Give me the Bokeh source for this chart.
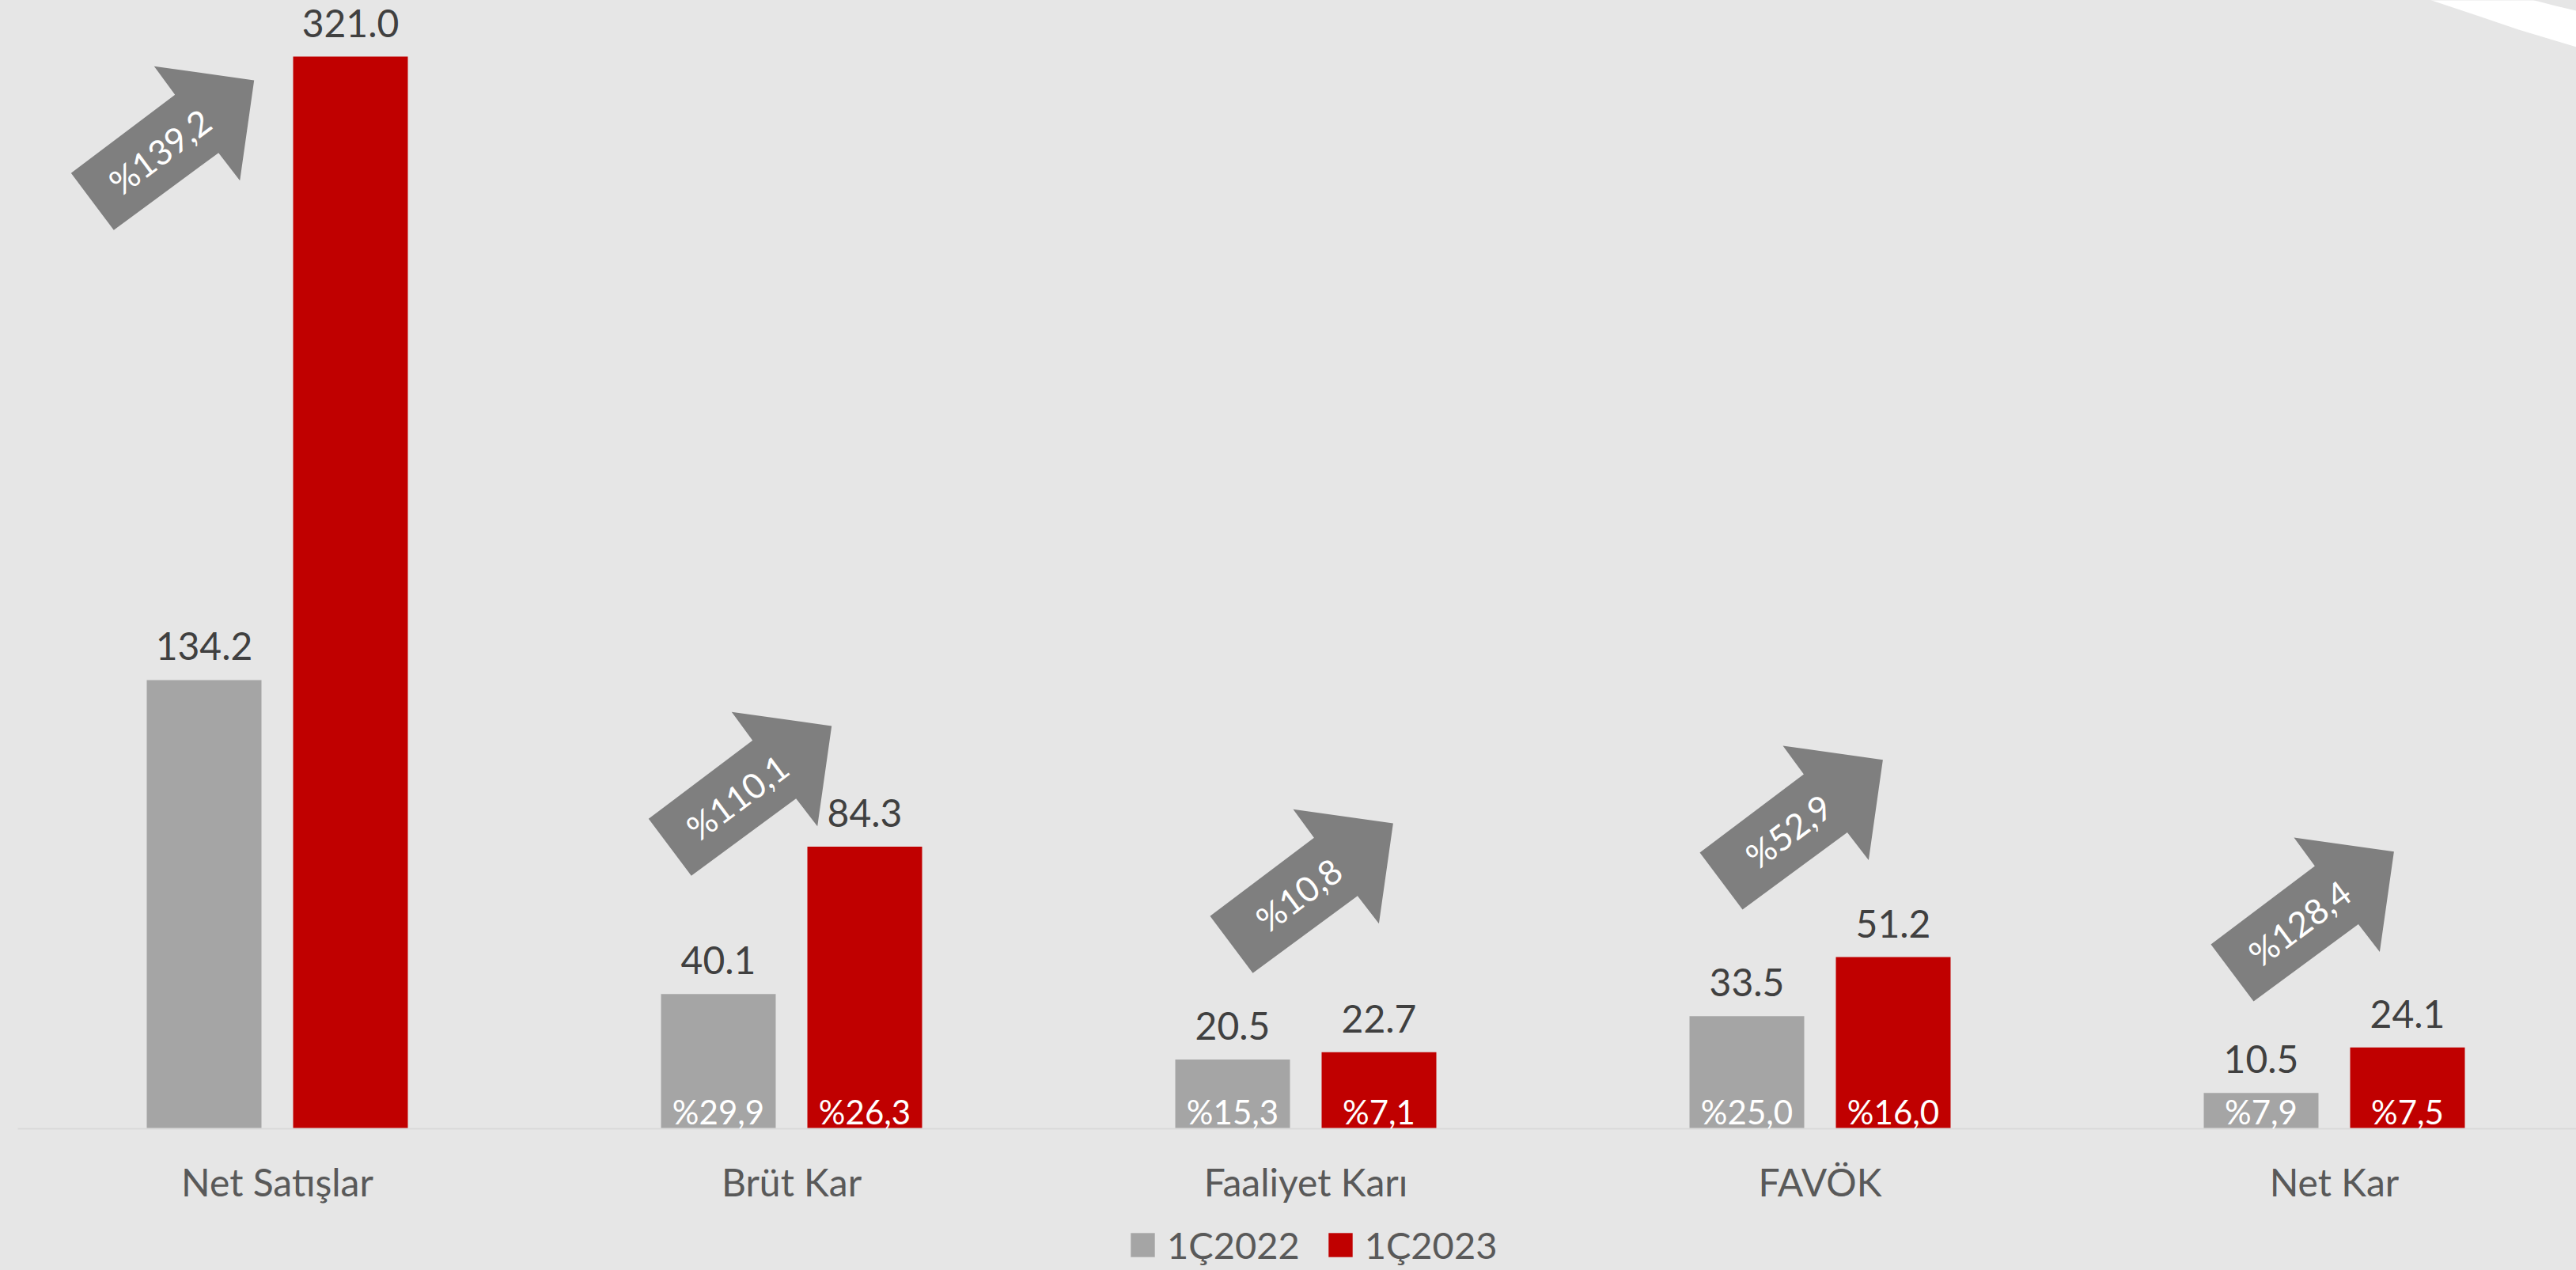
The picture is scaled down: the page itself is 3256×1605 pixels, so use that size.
import math
from bokeh.plotting import figure
from bokeh.models import (ColumnDataSource, LabelSet, Legend, LegendItem,
                          GlobalInlineStyleSheet, Range1d)
from bokeh.embed import file_html
from bokeh.resources import INLINE
from bokeh.core.properties import value

# ---------------- data ----------------
categories = ["Net Satışlar", "Brüt Kar", "Faaliyet Karı", "FAVÖK", "Net Kar"]
q1_2022 = [134.2, 40.1, 20.5, 33.5, 10.5]
q1_2023 = [321.0, 84.3, 22.7, 51.2, 24.1]
margin_2022 = ["", "%29,9", "%15,3", "%25,0", "%7,9"]
margin_2023 = ["", "%26,3", "%7,1", "%16,0", "%7,5"]
growth = ["%139,2", "%110,1", "%10,8", "%52,9", "%128,4"]
series_names = ["1Ç2022", "1Ç2023"]

# ---------------- layout / style ----------------
FIG_W, FIG_H = 3256, 1605
BASE_PX = 1425.0          # screen y of the zero line
CAT_PX = 650.0            # px per category
CAT0_PX = 350.0           # screen x of first category centre
PXY = 1354.0 / 321.0      # px per value unit
BAR_OFF = 92.5 / CAT_PX
BAR_W = 145.0 / CAT_PX

BG = "#e6e6e6"
GRAY = "#a5a5a5"
RED = "#c00000"
ARROW = "#7f7f7f"
FONT = "Lato"


def px_to_data(px, py):
    return ((px - CAT0_PX) / CAT_PX, (BASE_PX - py) / PXY)


p = figure(width=FIG_W, height=FIG_H, output_backend="svg", toolbar_location=None,
           x_range=Range1d(-CAT0_PX / CAT_PX, (FIG_W - CAT0_PX) / CAT_PX),
           y_range=Range1d(-(FIG_H - BASE_PX) / PXY, BASE_PX / PXY),
           x_axis_location=None, y_axis_location=None,
           min_border_left=0, min_border_right=0, min_border_top=0,
           min_border_bottom=0)
p.background_fill_color = BG
p.border_fill_color = BG
p.outline_line_color = None
p.xgrid.visible = False
p.ygrid.visible = False
p.stylesheets = [GlobalInlineStyleSheet(css="body { background-color: #e6e6e6; }")]

n = len(categories)
idx = list(range(n))
src = ColumnDataSource(dict(
    x=idx, cat=categories,
    x22=[i - BAR_OFF for i in idx], x23=[i + BAR_OFF for i in idx],
    v22=q1_2022, v23=q1_2023,
    lab22=[f"{v:.1f}" for v in q1_2022], lab23=[f"{v:.1f}" for v in q1_2023],
    m22=margin_2022, m23=margin_2023, zero=[0] * n,
))

# decorative white ring segment, top-right
ring_outer = [(3055, -6), (3073, 0), (3103, 10), (3133, 20), (3183, 37), (3233, 52), (3300, 72)]
ring_inner = [(3300, 21), (3256, 13), (3230, 7), (3203, 0), (3185, -6)]
ring = [px_to_data(x, y) for x, y in ring_outer + ring_inner]
p.patch([a for a, b in ring], [b for a, b in ring], fill_color="white", line_color=None)

# category axis line
ax0, _ = px_to_data(22, 0)
p.segment(x0=[ax0], y0=[-1.0 / PXY], x1=[(FIG_W - CAT0_PX) / CAT_PX + 1], y1=[-1.0 / PXY],
          line_color="#d9d9d9", line_width=2)

r22 = p.vbar(x="x22", top="v22", bottom=0, width=BAR_W, source=src,
             fill_color=GRAY, line_color=None)
r23 = p.vbar(x="x23", top="v23", bottom=0, width=BAR_W, source=src,
             fill_color=RED, line_color=None)

for xf, yf, tf in (("x22", "v22", "lab22"), ("x23", "v23", "lab23")):
    p.add_layout(LabelSet(x=xf, y=yf, text=tf, source=src, y_offset=25,
                          text_align="center", text_baseline="alphabetic",
                          text_font=value(FONT), text_font_size=value("48px"),
                          text_color=value("#404040")))
for xf, tf in (("x22", "m22"), ("x23", "m23")):
    p.add_layout(LabelSet(x=xf, y="zero", text=tf, source=src, y_offset=5,
                          text_align="center", text_baseline="alphabetic",
                          text_font=value(FONT), text_font_size=value("42px"),
                          text_color=value("white")))

# category labels (x axis)
p.add_layout(LabelSet(x="x", y="zero", text="cat", source=src, y_offset=-86,
                      text_align="center", text_baseline="alphabetic",
                      text_font=value(FONT), text_font_size=value("48px"),
                      text_color=value("#595959")))

# growth arrows (shape in screen px, relative to tail-top vertex, y down)
ARROW_SHAPE = [(0, 0), (54, 72), (186.4, -25.6), (213.4, 9.4), (231.4, -117.3),
               (105, -135), (131.4, -99)]
ARROW_ANCHOR = [(-260.7, 1206.7), (-180.7, 390.7), (-121.0, 267.7),
                (-152.0, 348.0), (-156.0, 232.0)]
ARROW_TEXT_OFF = (112.0, -27.4)
ARROW_ANGLE = math.atan2(98.3, 131.9)

axs, ays, tx, ty = [], [], [], []
for i, (dx, h) in enumerate(ARROW_ANCHOR):
    ax = CAT0_PX + CAT_PX * i + dx
    ay = BASE_PX - h
    pts = [px_to_data(ax + sx, ay + sy) for sx, sy in ARROW_SHAPE]
    axs.append([a for a, b in pts])
    ays.append([b for a, b in pts])
    cx, cy = px_to_data(ax + ARROW_TEXT_OFF[0], ay + ARROW_TEXT_OFF[1])
    tx.append(cx)
    ty.append(cy)
p.patches(axs, ays, fill_color=ARROW, line_color=None)
p.text(x=tx, y=ty, text=growth, angle=ARROW_ANGLE, text_align="center",
       text_baseline="middle", text_font=value(FONT), text_font_size=value("44px"),
       text_color="white")

legend = Legend(items=[LegendItem(label=series_names[0], renderers=[r22]),
                       LegendItem(label=series_names[1], renderers=[r23])],
                orientation="horizontal", location=(1425, 4),
                glyph_width=38, glyph_height=38, label_height=30,
                label_standoff=12, spacing=32,
                padding=0, margin=0, border_line_color=None,
                background_fill_alpha=0,
                label_text_font=FONT, label_text_font_size="47px",
                label_text_color="#595959")
p.add_layout(legend)

open("out.html", "w").write(file_html(p, INLINE))
